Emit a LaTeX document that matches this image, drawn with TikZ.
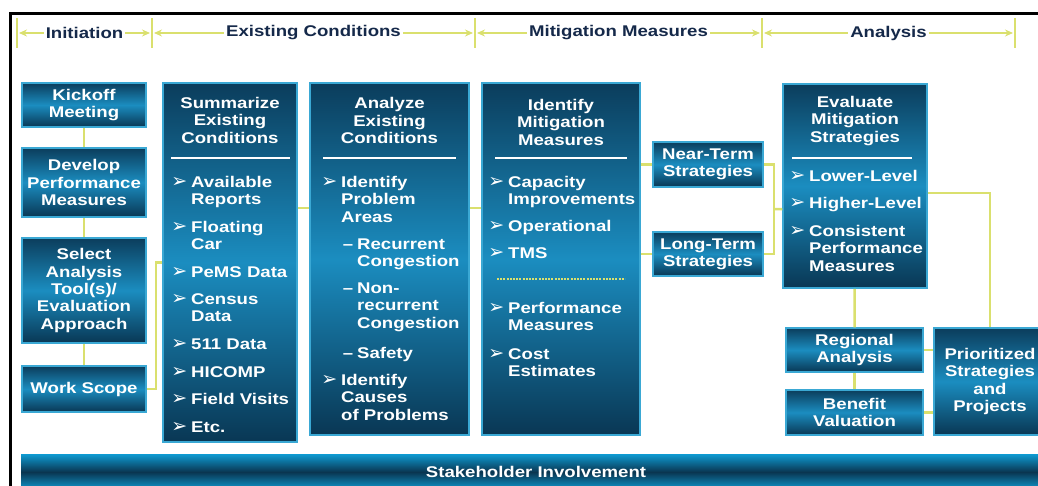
\documentclass[tikz,border=0pt]{standalone}
\usepackage{fontspec}
\newfontfamily\boxfont[FakeStretch=1.2]{Liberation Sans}
\newfontfamily\symfont{DejaVu Sans}
\usetikzlibrary{arrows.meta,calc}

\definecolor{boxtop}{HTML}{0B3D5C}
\definecolor{boxmid}{HTML}{1B8DC0}
\definecolor{boxbot}{HTML}{093754}
\definecolor{boxline}{HTML}{3AA8D4}
\definecolor{linkyel}{HTML}{DAE06E}
\definecolor{hdrtext}{HTML}{15294A}
\definecolor{barbright}{HTML}{0E9BD2}
\definecolor{bardark}{HTML}{0A3550}

\newcommand{\bul}{\makebox[0pt][r]{\raisebox{0pt}{\symfont\fontsize{19}{19}\selectfont ➢}\hspace{4pt}}}
\newcommand{\dsh}{\makebox[0pt][r]{–\hspace{4pt}}}

\tikzset{
  boxtxt/.style={font=\boxfont\bfseries\fontsize{15.5}{17.3}\selectfont, text=white},
  stepbox/.style={boxtxt, draw=boxline, line width=1.5pt, top color=boxtop,
    bottom color=boxbot, middle color=boxmid, align=center, inner sep=0pt},
  % base of a multi-line node = baseline of its last line
  ttl/.style={boxtxt, align=center, anchor=base, inner sep=0pt},
  itm/.style={boxtxt, align=left, anchor=base west, inner sep=0pt},
  link/.style={draw=linkyel, line width=2.5pt},
  sepline/.style={draw=white, line width=1.5pt},
  tick/.style={draw=linkyel, line width=2.5pt},
  phase/.style={draw=linkyel, line width=2pt, {Stealth[length=8pt,width=7pt]}-{Stealth[length=8pt,width=7pt]}, shorten <=2pt, shorten >=2pt},
  phlbl/.style={font=\boxfont\bfseries\fontsize{15.5}{17.5}\selectfont, text=hdrtext, fill=white, inner sep=2pt}
}

\begin{document}
\begin{tikzpicture}[x=1pt, y=-1pt]
  \clip (0,0) rectangle (1038,485);
  % frame
  \draw[line width=3pt] (10,490) -- (10,13) -- (1045,13);

  % phases
  \coordinate (h0) at (17,33);
  \coordinate (h1) at (152,33);
  \coordinate (h2) at (475,33);
  \coordinate (h3) at (762,33);
  \coordinate (h4) at (1015,33);
  \foreach \i in {0,...,4}
    \draw[tick] (h\i) ++(0,-15) -- ++(0,30);
  \draw[phase] (h0) -- node[phlbl] {Initiation} (h1);
  \draw[phase] (h1) -- node[phlbl] {Existing Conditions} (h2);
  \draw[phase] (h2) -- node[phlbl] {Mitigation Measures} (h3);
  \draw[phase] (h3) -- node[phlbl] {Analysis} (h4);

  % initiation
  \node[stepbox, minimum width=124pt, minimum height=44pt] (kick) at (84,105) {Kickoff\\Meeting};
  \node[stepbox, minimum width=124pt, minimum height=69pt] (dev) at (84,182.5) {Develop\\Performance\\Measures};
  \node[stepbox, minimum width=124pt, minimum height=105pt] (sel) at (84,290.5) {Select\\Analysis\\Tool(s)/\\Evaluation\\Approach};
  \node[stepbox, minimum width=124pt, minimum height=46pt] (scope) at (84,389) {Work Scope};

  % existing conditions
  \node[stepbox, minimum width=134pt, minimum height=359pt] (sum) at (230,262.5) {};
  \node[ttl] (sumT) at (230,143) {Summarize\\Existing\\Conditions};
  \draw[sepline] (171,158) -- (290,158);
  \node[itm] (sum1) at (191,204.5) {\bul Available\\Reports};
  \node[itm] (sum2) at (191,249.5) {\bul Floating\\Car};
  \node[itm] (sum3) at (191,277) {\bul PeMS Data};
  \node[itm] (sum4) at (191,321.5) {\bul Census\\Data};
  \node[itm] (sum5) at (191,349) {\bul 511 Data};
  \node[itm] (sum6) at (191,377) {\bul HICOMP};
  \node[itm] (sum7) at (191,404) {\bul Field Visits};
  \node[itm] (sum8) at (191,432) {\bul Etc.};

  \node[stepbox, minimum width=159pt, minimum height=352pt] (ana) at (389.5,259) {};
  \node[ttl] (anaT) at (389.5,143.5) {Analyze\\Existing\\Conditions};
  \draw[sepline] (323,158) -- (456,158);
  \node[itm] (ana1) at (341,222) {\bul Identify\\Problem\\Areas};
  \node[itm] (ana2) at (357,266.5) {\dsh Recurrent\\Congestion};
  \node[itm] (ana3) at (357,328) {\dsh Non-\\recurrent\\Congestion};
  \node[itm] (ana4) at (357,358) {\dsh Safety};
  \node[itm] (ana5) at (341,420) {\bul Identify\\Causes\\of Problems};

  % mitigation measures
  \node[stepbox, minimum width=158pt, minimum height=352pt] (ide) at (561,259) {};
  \node[ttl] (ideT) at (561,145) {Identify\\Mitigation\\Measures};
  \draw[sepline] (495,158) -- (627,158);
  \node[itm] (ide1) at (508,204.5) {\bul Capacity\\Improvements};
  \node[itm] (ide2) at (508,231) {\bul Operational};
  \node[itm] (ide3) at (508,258) {\bul TMS};
  \draw[linkyel, line width=2.5pt, dash pattern=on 2pt off 1.2pt] (497,279) -- (625,279);
  \node[itm] (ide4) at (508,330.5) {\bul Performance\\Measures};
  \node[itm] (ide5) at (508,376.5) {\bul Cost\\Estimates};

  \node[stepbox, minimum width=110pt, minimum height=45pt] (near) at (708,164.5) {Near-Term\\Strategies};
  \node[stepbox, minimum width=110pt, minimum height=44pt] (long) at (708,254) {Long-Term\\Strategies};

  % analysis
  \node[stepbox, minimum width=144pt, minimum height=204pt] (eva) at (855,186) {};
  \node[ttl] (evaT) at (855,142) {Evaluate\\Mitigation\\Strategies};
  \draw[sepline] (792,158) -- (912,158);
  \node[itm] (eva1) at (809,181) {\bul Lower-Level};
  \node[itm] (eva2) at (809,208) {\bul Higher-Level};
  \node[itm] (eva3) at (809,271) {\bul Consistent\\Performance\\Measures};

  \node[stepbox, minimum width=137pt, minimum height=44pt] (reg) at (854.5,350) {Regional\\Analysis};
  \node[stepbox, minimum width=137pt, minimum height=45pt] (ben) at (854.5,412.5) {Benefit\\Valuation};
  \node[stepbox, minimum width=112pt, minimum height=107pt] (pri) at (990,381.5) {Prioritized\\Strategies\\and\\Projects};

  % stakeholders
  \node[boxtxt, top color=barbright, bottom color=barbright, middle color=bardark,
    minimum width=1030pt, minimum height=36pt, inner sep=0pt] (stake) at (536,472) {Stakeholder Involvement};

  % links
  \draw[link] (kick) -- (dev);
  \draw[link] (dev) -- (sel);
  \draw[link] (sel) -- (scope);
  \draw[link] (scope.east) -- ++(9,0) |- (sum.west);
  \draw[link] (sum.east |- 0,208) -- (ana.west |- 0,208);
  \draw[link] (ana.east |- 0,208) -- (ide.west |- 0,208);
  \draw[link] (ide.east |- near.west) -- (near.west);
  \draw[link] (ide.east |- long.west) -- (long.west);
  \draw[link] (near.east) -- ++(10,0) coordinate (nb) -- (nb |- long.east) coordinate (lb) -- (long.east);
  \draw[link] ($(nb)!.5!(lb)$) -- (eva.west |- 0,209);
  \draw[link] (eva.east |- 0,193) -| (pri.north);
  \draw[link] (eva) -- (reg);
  \draw[link] (reg) -- (ben);
  \draw[link] (reg.east) -- (pri.west |- reg.east);
  \draw[link] (ben.east) -- (pri.west |- ben.east);
\end{tikzpicture}
\end{document}
